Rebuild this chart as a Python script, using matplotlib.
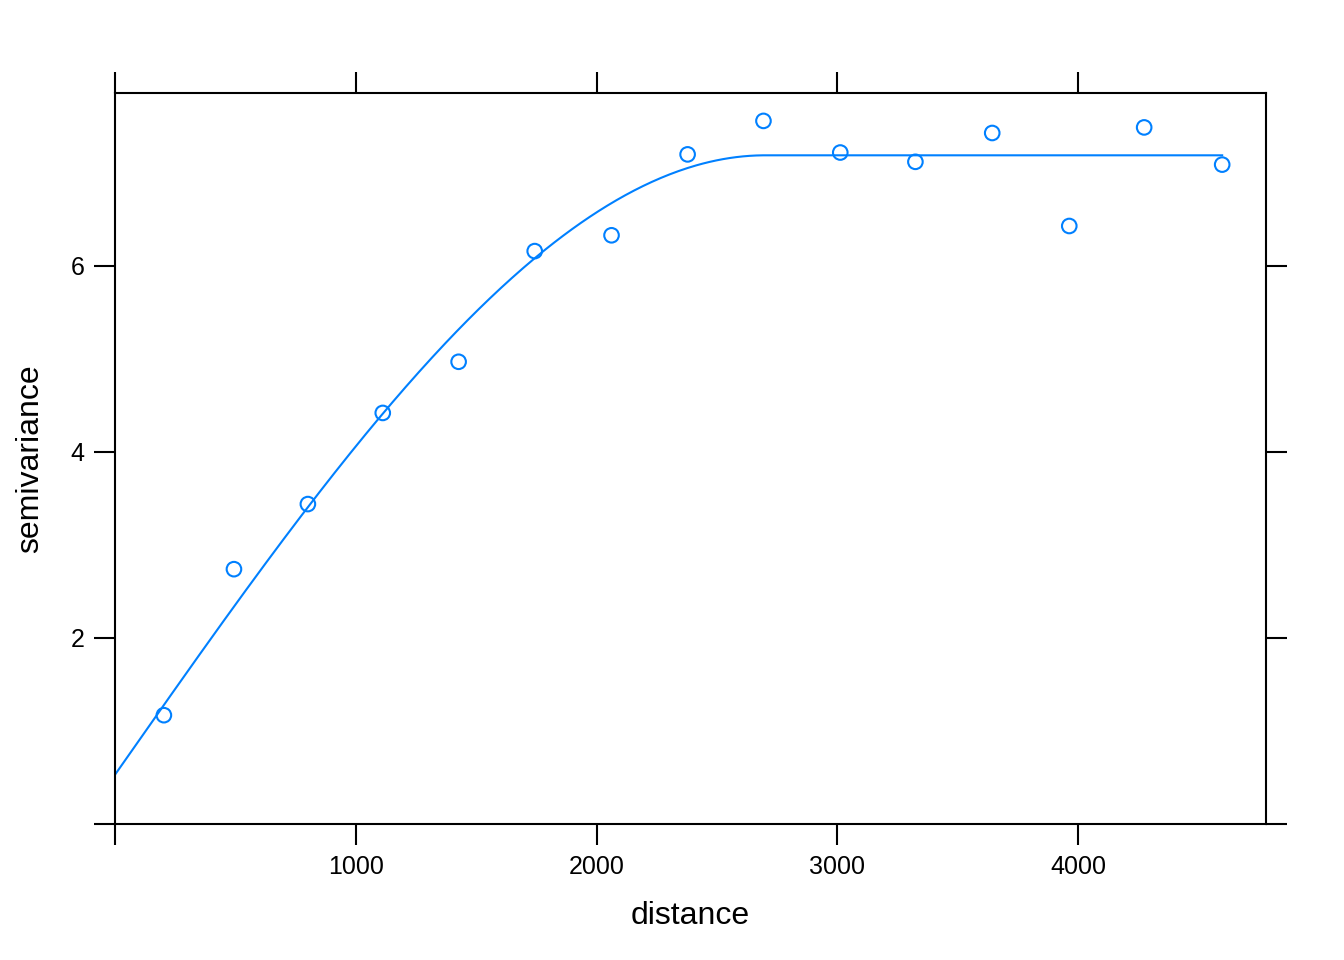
import numpy as np
import matplotlib
matplotlib.use("Agg")
import matplotlib.pyplot as plt

plt.rcParams["font.family"] = ["Liberation Sans", "DejaVu Sans"]

# empirical semivariogram
dist = [203, 494, 801, 1112, 1427, 1743, 2062, 2378, 2693, 3012, 3324, 3643, 3963, 4274, 4598]
gamma = [1.17, 2.74, 3.44, 4.42, 4.97, 6.16, 6.33, 7.20, 7.56, 7.22, 7.12, 7.43, 6.43, 7.49, 7.09]

# fitted spherical model
nugget = 0.53
psill = 6.66
vrange = 2700.0

x_ticks = [0, 1000, 2000, 3000, 4000]
x_labels = ["", "1000", "2000", "3000", "4000"]
y_ticks = [0, 2, 4, 6]
y_labels = ["", "2", "4", "6"]

blue = "#0080ff"

h = np.linspace(0, max(dist), 500)
hr = np.minimum(h / vrange, 1.0)
model = nugget + psill * (1.5 * hr - 0.5 * hr ** 3)

fig = plt.figure(figsize=(13.44, 9.6), dpi=100)
ax = fig.add_axes([115 / 1344, 1 - 824 / 960, (1266 - 115) / 1344, (824 - 93) / 960])

ax.plot(h, model, color=blue, lw=1.5)
ax.scatter(dist, gamma, s=110, facecolors="none", edgecolors=blue, linewidths=1.5, zorder=3)

ax.set_xlim(0, 4780)
ax.set_ylim(0, 7.86)

ax.set_xticks(x_ticks)
ax.set_xticklabels(x_labels)
ax.set_yticks(y_ticks)
ax.set_yticklabels(y_labels)
ax.tick_params(direction="out", length=15, width=1.5, labelsize=18, pad=7,
               top=True, right=True, labeltop=False, labelright=False)
for s in ax.spines.values():
    s.set_linewidth(1.5)

ax.set_xlabel("distance", fontsize=23, labelpad=16)
ax.set_ylabel("semivariance", fontsize=23, labelpad=18)

fig.savefig("out.png", dpi=100)
